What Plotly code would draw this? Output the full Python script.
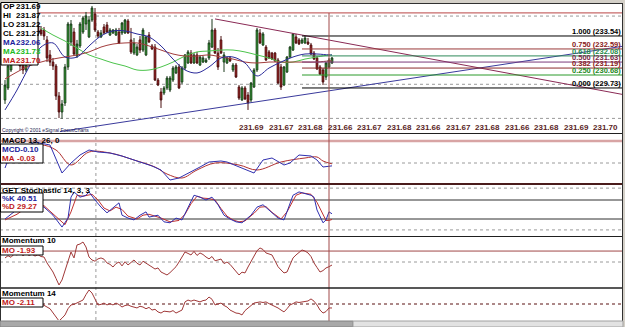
import plotly.graph_objects as go

# ---------------- data ----------------
bar_index = list(range(110))
open_px = [228.85, 229.73, 231.05, 231.93, 232.37, 231.78, 231.49, 231.05, 231.93, 232.88,
           233.54, 234.27, 233.98, 233.98, 233.25, 232.15, 231.63, 231.34, 229.14, 227.97,
           228.63, 231.27, 233.10, 233.83, 232.07, 232.81, 233.83, 234.42, 233.47, 234.71,
           235.15, 233.83, 233.47, 234.20, 234.35, 233.61, 233.76, 233.61, 233.83, 233.76,
           233.76, 234.64, 233.25, 232.29, 232.15, 233.25, 232.51, 232.15, 233.61, 232.81,
           232.73, 230.31, 229.43, 229.36, 229.73, 229.58, 230.31, 230.83, 231.27, 230.17,
           231.19, 231.56, 232.29, 231.56, 232.15, 231.41, 231.63, 231.63, 231.93, 232.73,
           233.98, 232.29, 233.25, 231.63, 231.56, 231.93, 231.05, 231.41, 229.80, 228.85,
           229.73, 229.21, 228.85, 229.80, 231.05, 233.76, 232.88, 232.73, 232.37, 232.29,
           232.29, 231.78, 231.27, 229.95, 230.90, 232.00, 232.51, 233.47, 233.25, 233.03,
           233.03, 233.10, 232.88, 232.29, 231.93, 231.27, 231.05, 230.53, 231.27, 231.56]
high_px = [230.31, 231.63, 232.15, 232.66, 232.51, 231.93, 231.78, 232.15, 233.10, 233.83,
           234.57, 234.57, 234.27, 234.20, 233.54, 232.51, 231.93, 231.49, 229.43, 228.85,
           231.49, 234.57, 234.71, 234.13, 233.25, 234.57, 235.01, 235.30, 235.01, 235.74,
           235.59, 233.98, 233.98, 234.42, 234.57, 234.13, 234.05, 234.13, 234.13, 234.57,
           234.79, 234.79, 234.13, 233.39, 232.95, 233.54, 234.13, 233.54, 233.83, 232.95,
           232.95, 230.46, 229.73, 229.87, 230.61, 230.61, 231.34, 231.41, 231.49, 231.34,
           232.22, 232.51, 232.51, 232.29, 232.37, 232.15, 232.07, 231.93, 233.25, 234.79,
           234.13, 232.66, 233.54, 232.37, 232.00, 232.07, 231.56, 231.56, 229.95, 229.87,
           229.87, 229.43, 230.17, 231.19, 234.13, 234.05, 233.83, 232.88, 232.51, 232.37,
           232.37, 231.93, 231.49, 231.34, 232.07, 232.81, 233.76, 233.69, 233.39, 233.39,
           233.54, 233.39, 233.03, 232.44, 232.07, 231.41, 231.19, 231.63, 231.93, 232.00]
low_px = [228.56, 229.58, 230.90, 231.63, 231.49, 231.05, 230.75, 230.90, 231.78, 232.66,
          233.39, 233.54, 233.54, 233.25, 231.63, 231.34, 231.05, 228.85, 227.53, 227.46,
          228.41, 231.05, 232.81, 232.07, 231.93, 232.66, 233.69, 233.98, 233.39, 234.57,
          233.83, 233.39, 233.39, 233.69, 233.76, 233.54, 233.69, 233.54, 232.95, 233.61,
          233.69, 233.69, 232.22, 232.15, 232.07, 232.29, 232.37, 232.07, 233.03, 232.51,
          230.24, 229.87, 228.26, 229.21, 229.58, 229.43, 230.17, 230.75, 229.65, 230.02,
          231.05, 231.49, 231.49, 231.49, 231.49, 231.34, 231.56, 231.56, 231.78, 232.66,
          232.22, 231.05, 232.22, 230.90, 231.49, 231.63, 230.90, 230.46, 228.85, 228.78,
          228.85, 228.12, 228.70, 229.73, 230.90, 232.95, 232.81, 231.71, 231.85, 231.78,
          231.63, 230.02, 229.58, 229.87, 230.83, 231.93, 232.44, 232.95, 232.88, 232.95,
          232.95, 232.88, 232.15, 231.78, 231.05, 230.68, 229.95, 230.31, 231.19, 231.49]
close_px = [229.95, 231.34, 231.93, 232.37, 231.78, 231.34, 231.05, 231.93, 232.88, 233.54,
            234.27, 233.83, 233.69, 233.54, 231.93, 231.63, 231.34, 229.14, 227.97, 228.56,
            231.27, 234.42, 234.42, 232.22, 232.95, 234.42, 234.86, 235.01, 234.71, 235.59,
            233.98, 233.54, 233.76, 233.76, 233.83, 233.98, 233.98, 233.98, 233.03, 234.49,
            234.71, 233.76, 232.37, 233.03, 232.73, 232.51, 233.98, 233.47, 233.10, 232.59,
            230.31, 229.95, 228.85, 229.73, 230.46, 230.46, 231.19, 231.27, 229.73, 231.19,
            232.15, 232.37, 231.56, 232.15, 231.56, 232.00, 231.93, 231.78, 233.03, 233.98,
            232.29, 231.27, 232.29, 232.15, 231.93, 231.71, 231.41, 230.53, 228.99, 229.73,
            228.92, 228.63, 230.09, 231.05, 233.98, 233.03, 233.69, 231.78, 231.93, 231.85,
            231.71, 230.09, 229.80, 231.27, 232.00, 232.73, 233.69, 233.03, 232.95, 233.25,
            233.39, 232.95, 232.22, 231.85, 231.12, 230.75, 230.17, 231.56, 231.78, 231.93]

ma_idx = [0, 4, 8, 12, 16, 20, 24, 28, 32, 36, 40, 44, 48, 52, 56, 60, 64, 68, 72, 76,
          80, 84, 88, 92, 96, 100, 104, 108, 109]
ma_blue = [228.12, 229.58, 231.27, 232.73, 233.03, 232.00, 232.00, 232.81, 233.54, 233.91,
           233.91, 233.69, 233.47, 232.81, 231.85, 231.05, 230.83, 231.27, 231.93, 232.00,
           231.56, 230.61, 231.19, 231.63, 232.00, 232.22, 232.22, 232.15, 232.15]
ma_red = [230.39, 230.90, 231.34, 231.63, 231.85, 232.00, 232.15, 232.37, 232.73, 232.95,
          233.03, 233.03, 232.81, 232.51, 232.22, 232.07, 232.07, 232.15, 232.00, 231.85,
          231.63, 231.56, 231.63, 231.63, 231.63, 231.63, 231.63, 231.71, 231.71]
ma_green_idx = ma_idx[3:]
ma_green = [234.13, 233.61, 233.17, 232.66, 232.15, 231.85, 231.56, 231.34, 231.05, 231.05,
            231.27, 231.63, 232.07, 232.37, 232.44, 232.51, 232.51, 232.37, 232.15, 231.93,
            231.63, 231.63, 231.85, 232.00, 232.15, 232.15]

upper_trend_idx = [70, 206]
upper_trend_px = [234.79, 229.25]
lower_trend_idx = [18.3, 206]
lower_trend_px = [226.53, 232.79]

fib_ratio = ["1.000", "0.750", "0.618", "0.500", "0.382", "0.250", "0.000"]
fib_price = [233.54, 232.59, 232.08, 231.63, 231.19, 230.68, 229.73]
fib_start_idx = 99

axis_labels = ["231.69", "231.67", "231.68", "231.66", "231.67", "231.68", "231.66",
               "231.67", "231.68", "231.66", "231.68", "231.69", "231.70"]

info_labels = ["OP", "HI", "LO", "CL", "MA", "MA", "MA"]
info_values = ["231.69", "231.87", "231.22", "231.27", "232.06", "231.73", "231.70"]

macd_idx = [0, 1, 5, 10, 15, 17, 19, 22, 25, 28, 31, 35, 39, 43, 46, 49, 52, 55, 58, 62,
            65, 68, 72, 74, 78, 83, 86, 89, 93, 95, 98, 102, 104, 106, 109]
macd_val = [-0.175, 0.105, 0.455, 0.735, 0.63, 0.105, -0.35, 0.0, 0.28, 0.455,
            0.385, 0.35, 0.245, 0.105, 0.0, -0.105, -0.245, -0.595, -0.525, -0.315,
            -0.14, 0.035, 0.07, 0.035, -0.14, -0.35, 0.105, 0.175, -0.07, 0.0,
            0.28, 0.245, 0.105, -0.14, -0.10]
signal_idx = [0, 2, 6, 12, 17, 22, 28, 35, 43, 50, 54, 59, 64, 70, 78, 84, 92, 100, 104, 106, 109]
signal_val = [0.0, 0.105, 0.385, 0.63, 0.455, -0.07, 0.385, 0.35, 0.105, -0.14, -0.385,
              -0.525, -0.245, 0.0, -0.07, -0.245, 0.035, 0.175, 0.21, 0.07, -0.03]

k_idx = [0, 3, 6, 9, 13, 16, 19, 21, 22, 23, 25, 27, 28, 30, 32, 34, 36, 38, 39, 41,
         43, 45, 47, 48, 51, 53, 55, 57, 59, 61, 63, 65, 67, 69, 71, 73, 75, 77, 79, 82,
         84, 86, 88, 91, 93, 96, 98, 102, 103, 104, 106, 107, 108, 109]
k_val = [30, 45, 60, 65, 55, 38, 13, 32, 76, 87, 76, 80, 87, 70, 55, 43, 53, 64, 38, 32,
         28, 38, 45, 34, 38, 24, 22, 32, 28, 55, 80, 76, 70, 76, 60, 38, 30, 24, 22, 38,
         55, 60, 49, 32, 28, 80, 87, 80, 76, 49, 22, 28, 45, 41]
d_idx = [0, 4, 8, 13, 17, 20, 22, 24, 26, 29, 31, 33, 35, 37, 39, 41, 44, 46, 48, 50,
         52, 55, 58, 60, 62, 64, 66, 68, 70, 72, 74, 76, 78, 80, 83, 85, 87, 89, 92, 94,
         97, 99, 102, 104, 106, 107, 108, 109]
d_val = [28, 40, 58, 58, 35, 18, 45, 80, 78, 82, 70, 53, 47, 55, 50, 36, 30, 38, 40, 36,
         32, 24, 27, 40, 62, 78, 74, 73, 70, 52, 36, 28, 24, 26, 42, 55, 56, 44, 30, 45,
         80, 85, 82, 65, 38, 27, 27, 29]

mom10 = [2.6, 4.0, 3.0, 5.0, 4.5, 5.8, 4.0, 5.5, 4.2, 5.0,
         3.8, 4.6, 3.5, 3.2, -0.6, -3.5, -6.4, -10.5, -14.7, -11.5,
         -6.0, 0.0, 6.4, 2.6, 10.9, 11.5, 12.8, 9.6, 3.2, 1.3,
         0.5, 2.0, 2.6, 1.8, -0.6, -1.5, -3.2, -1.0, 0.0, -2.5,
         0.2, -1.9, -0.5, 1.3, -0.8, -1.9, 0.5, -0.6, -2.0, -3.2,
         -4.5, -3.8, -6.4, -7.2, -8.3, -6.8, -5.1, -3.0, 0.0, 3.0,
         6.4, 5.5, 4.5, 6.8, 4.2, 5.8, 4.8, 3.2, 2.0, 3.5,
         0.8, 1.3, 1.9, -1.0, 0.0, -1.5, -3.8, -5.5, -8.3, -6.5,
         -7.0, -3.2, 0.5, 4.5, 7.2, 9.0, 8.0, 5.8, 5.0, 4.5,
         0.8, -3.0, -5.1, -7.0, -6.4, -2.0, 2.6, 4.5, 6.4, 7.7,
         7.0, 5.8, 3.5, -0.6, -3.5, -6.4, -5.5, -3.8, -3.0, -1.93]
mom14 = [2.1, 1.5, 2.5, 1.8, 2.2, 1.0, 1.6, 0.8, 1.2, 0.2,
         0.6, -0.3, 0.2, -0.5, -1.6, -2.5, -4.8, -7.0, -9.0, -7.5,
         -5.8, -2.5, -0.5, -0.2, 0.5, 1.0, 2.1, 5.0, 7.4, 5.8,
         3.0, -0.5, -0.2, 0.5, -0.5, 0.2, -0.5, 0.5, -0.3, -1.6,
         -0.8, -0.5, -1.2, -1.6, -2.1, -1.2, -1.6, -2.5, -1.8, -3.2,
         -2.8, -4.2, -4.8, -3.8, -4.2, -4.2, -3.5, -4.8, -4.0, -3.2,
         1.1, 2.1, 1.5, 2.1, 1.6, 1.1, 1.8, 2.1, 3.7, 2.5,
         -0.5, 0.2, 0.5, -0.8, -1.6, -3.2, -4.0, -4.8, -5.0, -5.8,
         -3.5, -2.1, -0.8, 0.5, 0.8, 1.1, 0.8, 1.1, 0.2, -0.5,
         -1.5, -2.1, -3.2, -4.2, -2.5, -0.5, 0.2, 1.1, 0.8, 1.1,
         1.1, 1.6, 2.7, 1.5, -0.5, -3.2, -4.8, -4.0, -2.1, -2.11]

cursor_bar = 108
day_grid_idx = 30.3

# ---------------- layout helpers ----------------
W, H = 625, 327
FONT = "Liberation Sans Narrow, Arial Narrow, Liberation Sans, Arial, sans-serif"
XR = 623 / W


def fx(p):
    return p / W


def fy(p):
    return 1 - p / H


fig = go.Figure()

fig.add_trace(go.Candlestick(
    x=bar_index, open=open_px, high=high_px, low=low_px, close=close_px,
    increasing=dict(line=dict(color="#1d3a1d", width=1), fillcolor="#22cc22"),
    decreasing=dict(line=dict(color="#4a1010", width=1), fillcolor="#c01414"),
    whiskerwidth=0, xaxis="x", yaxis="y", hoverinfo="skip"))


def line_trace(x, y, color, yaxis, width=1, shape="linear"):
    fig.add_trace(go.Scatter(x=x, y=y, mode="lines", xaxis="x", yaxis=yaxis,
                             line=dict(color=color, width=width, shape=shape),
                             hoverinfo="skip"))


line_trace(ma_green_idx, ma_green, "#4cc44c", "y", shape="spline")
line_trace(ma_idx, ma_red, "#a23c3c", "y", shape="spline")
line_trace(ma_idx, ma_blue, "#2a2a9a", "y", shape="spline")
line_trace(upper_trend_idx, upper_trend_px, "#8a2a55", "y")
line_trace(lower_trend_idx, lower_trend_px, "#3a3a9c", "y")

line_trace(signal_idx, signal_val, "#b03030", "y2", shape="spline")
line_trace(macd_idx, macd_val, "#3030b0", "y2")
line_trace(d_idx, d_val, "#c03030", "y3")
line_trace(k_idx, k_val, "#3030b0", "y3")
line_trace(bar_index, mom10, "#a03838", "y4")
line_trace(bar_index, mom14, "#a03838", "y5")

shapes = []


def hline(yref, val, color, width=1, dash="solid", x0=0, x1=XR, xref="paper", layer="below"):
    shapes.append(dict(type="line", xref=xref, x0=x0, x1=x1, yref=yref, y0=val, y1=val,
                       line=dict(color=color, width=width, dash=dash), layer=layer))


def pline(x0, y0, x1, y1, color, width=1, dash="solid", layer="above"):
    shapes.append(dict(type="line", xref="paper", yref="paper", x0=fx(x0), x1=fx(x1),
                       y0=fy(y0), y1=fy(y1), line=dict(color=color, width=width, dash=dash),
                       layer=layer))


def prect(x0, y0, x1, y1, fill, color="#000000", width=1, layer="above"):
    shapes.append(dict(type="rect", xref="paper", yref="paper", x0=fx(x0), x1=fx(x1),
                       y0=fy(y1), y1=fy(y0), fillcolor=fill,
                       line=dict(color=color, width=width), layer=layer))


# grid lines
for g in [227.5, 230.0, 235.0]:
    hline("y", g, "#9a9a9a", dash="dot")
hline("y", 235.23, "#c86a6a", width=1.2)
hline("y2", 0.77, "#d8a4a4", width=2.5)
hline("y2", 0.0, "#9a9a9a", dash="dot")
hline("y3", 95, "#9a9a9a", dash="dot")
hline("y3", 7, "#9a9a9a", dash="dot")
hline("y3", 70, "#303030")
hline("y3", 30, "#303030")
hline("y4", 7.0, "#a04848")
hline("y4", 0.0, "#9a9a9a", dash="dot")
hline("y5", 0.0, "#5a1010", width=1, dash="dot")
shapes.append(dict(type="line", xref="x", x0=day_grid_idx, x1=day_grid_idx, yref="paper",
                   y0=fy(320), y1=fy(14), line=dict(color="#9a9a9a", width=1, dash="dot"),
                   layer="below"))

# fibonacci levels
fib_colors = ["#000000", "#9a3a3a", "#2e8a5a", "#7a3a7a", "#8a2a2a", "#2a9a2a", "#000000"]
fib_text_colors = ["#000000", "#8a2020", "#1e8a4a", "#7a2a4a", "#8a2020", "#1e8a1e", "#000000"]
for p, c in zip(fib_price, fib_colors):
    hline("y", p, c, width=1, xref="x", x0=fib_start_idx, x1=206, layer="above")

# cursor line
shapes.append(dict(type="line", xref="x", x0=cursor_bar, x1=cursor_bar, yref="paper",
                   y0=fy(325), y1=fy(13), line=dict(color="#a04848", width=1), layer="above"))

# frame
prect(0, 0, 625, 3, "#d4d0c8", color="#d4d0c8", width=0)
prect(623, 0, 625, 327, "#d4d0c8", color="#d4d0c8", width=0)
pline(0, 3.5, 623, 3.5, "#303030")
pline(0, 133.5, 623, 133.5, "#202020")
pline(0, 184, 623, 184, "#4a1c1c", width=2)
pline(0, 236.5, 623, 236.5, "#202020")
pline(0, 288, 623, 288, "#202020", width=1.5)
pline(0.5, 3.5, 0.5, 321, "#303030")
pline(622.5, 3.5, 622.5, 321, "#303030")
prect(0, 321, 353, 327, "#a8a8a8", color="#808080", width=1)
prect(353, 321, 623, 327, "#e2e2e2", color="#a0a0a0", width=1)

# legend boxes
prect(1, 2.5, 38, 65, "#ffffff")
prect(0.5, 144, 43, 163, "#ffffff")
prect(0.5, 193, 43, 212, "#ffffff")
prect(0.5, 246, 43, 255, "#ffffff")
prect(0.5, 298, 43, 307, "#ffffff")

annotations = []


def T(xp, yp, s, color="#000000", size=8, xanchor="left", bold=True, family=FONT):
    annotations.append(dict(xref="paper", yref="paper", x=fx(xp), y=fy(yp),
                            text=f"<b>{s}</b>" if bold else s, showarrow=False,
                            xanchor=xanchor, yanchor="middle", borderpad=0, borderwidth=0,
                            font=dict(family=family, size=size, color=color)))


info_colors = ["#000000"] * 4 + ["#1c1c9c", "#22bb22", "#c01818"]
for i, (lab, val, col) in enumerate(zip(info_labels, info_values, info_colors)):
    yy = 6.5 + 9 * i
    T(2.5, yy, lab, col)
    T(16, yy, val, col)

T(2, 129.5, "Copyright © 2001 eSignal FocusCharts", "#202050", size=5, bold=False,
  family="Liberation Sans, Arial, sans-serif")

for k, lab in enumerate(axis_labels):
    annotations.append(dict(xref="x", yref="paper", x=82.33 + 9.833 * k, y=fy(128),
                            text=f"<b>{lab}</b>", showarrow=False, xanchor="center",
                            yanchor="middle", borderpad=0,
                            font=dict(family=FONT, size=8, color="#5a1e1e")))

for r, p, c in zip(fib_ratio, fib_price, fib_text_colors):
    annotations.append(dict(xref="paper", yref="y", x=fx(621.5), y=p,
                            text=f"<b>{r} ({p:.2f})</b>", showarrow=False, xanchor="right",
                            yanchor="bottom", borderpad=0, yshift=-1,
                            font=dict(family=FONT, size=7.5, color=c)))

T(2, 140.5, "MACD 13, 26, 0")
T(2, 149, "MCD-0.10", "#1c1c9c")
T(2, 158, "MA", "#c01818")
T(17, 158, "-0.03", "#c01818")

T(2, 190, "GET Stochastic 14, 3, 3")
T(2, 198, "%K", "#1c1c9c")
T(17, 198, "40.51", "#1c1c9c")
T(2, 206.5, "%D", "#c01818")
T(17, 206.5, "29.27", "#c01818")

T(2, 241, "Momentum 10")
T(2, 250.5, "MO", "#c01818")
T(17, 250.5, "-1.93", "#c01818")

T(2, 293, "Momentum 14")
T(2, 302.5, "MO", "#c01818")
T(17, 302.5, "-2.11", "#c01818")

common_y = dict(visible=False, fixedrange=True, anchor="x")
fig.update_layout(
    width=W, height=H, margin=dict(l=0, r=0, t=0, b=0),
    paper_bgcolor="#ffffff", plot_bgcolor="#ffffff", showlegend=False,
    boxgap=0.2,
    xaxis=dict(domain=[0, XR], range=[-5 / 3, 206], visible=False, fixedrange=True,
               rangeslider=dict(visible=False), anchor="y"),
    yaxis=dict(domain=[fy(133), fy(4)], range=[226.43, 235.885], **common_y),
    yaxis2=dict(domain=[fy(183), fy(135)], range=[-0.70, 0.98], **common_y),
    yaxis3=dict(domain=[fy(235), fy(185)], range=[-3.7, 101.6], **common_y),
    yaxis4=dict(domain=[fy(287), fy(237)], range=[-16.0, 16.0], **common_y),
    yaxis5=dict(domain=[fy(320), fy(289)], range=[-8.48, 7.95], **common_y),
    shapes=shapes, annotations=annotations,
)

fig.write_html("out.html")
